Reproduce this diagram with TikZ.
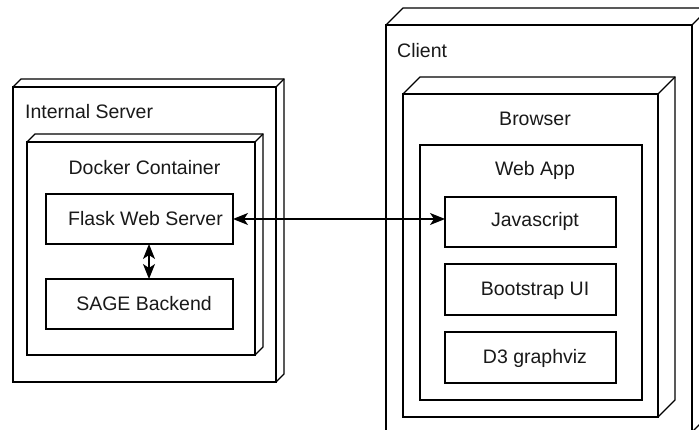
\documentclass[tikz,border=0pt]{standalone}
\usepackage{fontspec}
\setmainfont{Liberation Sans}
\usetikzlibrary{arrows.meta}
\newcommand\cubeback[2]{%
  \draw[cube] (#1.north west) -- ++(#2,-#2) -| ([shift={(#2,-#2)}]#1.south east) -- (#1.south east);
  \draw[cube] (#1.north east) -- ++(#2,-#2);}
\begin{document}
\begin{tikzpicture}[x=1pt,y=-1pt,
  box/.style={draw, line width=1.3pt, rectangle, inner sep=0pt, outer sep=0pt, anchor=north west},
  lbl/.style={font=\fontsize{19.5}{22}\selectfont, anchor=base, inner sep=0pt, text=black!90},
  cube/.style={line width=1.3pt, line join=miter},
  dbl/.style={line width=1.3pt, {Stealth[length=15pt,width=12pt,inset=4pt]}-{Stealth[length=15pt,width=12pt,inset=4pt]}}]
\useasboundingbox (0,0) rectangle (699,430);
\clip (0,0) rectangle (699,430);
\fill[white] (0,0) rectangle (699,430);

% Internal server side
\node[box, minimum width=263pt, minimum height=295pt] (isrv) at (13,87) {};
\cubeback{isrv}{8}
\node[box, minimum width=228pt, minimum height=213pt] (dock) at (27,142) {};
\cubeback{dock}{8}
\node[box, minimum width=187pt, minimum height=50pt] (flask) at (46,194) {};
\node[box, minimum width=187pt, minimum height=50pt] (sage) at (46,279) {};

% Client side
\node[box, minimum width=306pt, minimum height=407pt] (client) at (386,25) {};
\cubeback{client}{17}
\node[box, minimum width=255pt, minimum height=323pt] (browser) at (403,94) {};
\cubeback{browser}{17}
\node[box, minimum width=222pt, minimum height=255pt] (webapp) at (420,145) {};
\node[box, minimum width=171pt, minimum height=50pt] (js) at (445,197) {};
\node[box, minimum width=171pt, minimum height=51pt] (boot) at (445,264) {};
\node[box, minimum width=171pt, minimum height=51pt] (dthree) at (445,332) {};

% Labels
\node[lbl, anchor=base west] (tisrv) at (25,119) {Internal Server};
\node[lbl] (tdock) at (144.5,175) {Docker Container};
\node[lbl] (tflask) at (145.5,226) {Flask Web Server};
\node[lbl] (tsage) at (144,311) {SAGE Backend};
\node[lbl, anchor=base west] (tclient) at (397,57.5) {Client};
\node[lbl] (tbrowser) at (535,126) {Browser};
\node[lbl] (twebapp) at (535,176) {Web App};
\node[lbl] (tjs) at (535,226.5) {Javascript};
\node[lbl] (tboot) at (535,295.5) {Bootstrap UI};
\node[lbl] (tdthree) at (535,363) {D3 graphviz};

% Connectors
\draw[dbl] (flask.east) -- (flask.east -| js.west);
\draw[dbl] ([xshift=9.5pt]flask.south) -- ([xshift=9.5pt]sage.north);
\end{tikzpicture}
\end{document}
